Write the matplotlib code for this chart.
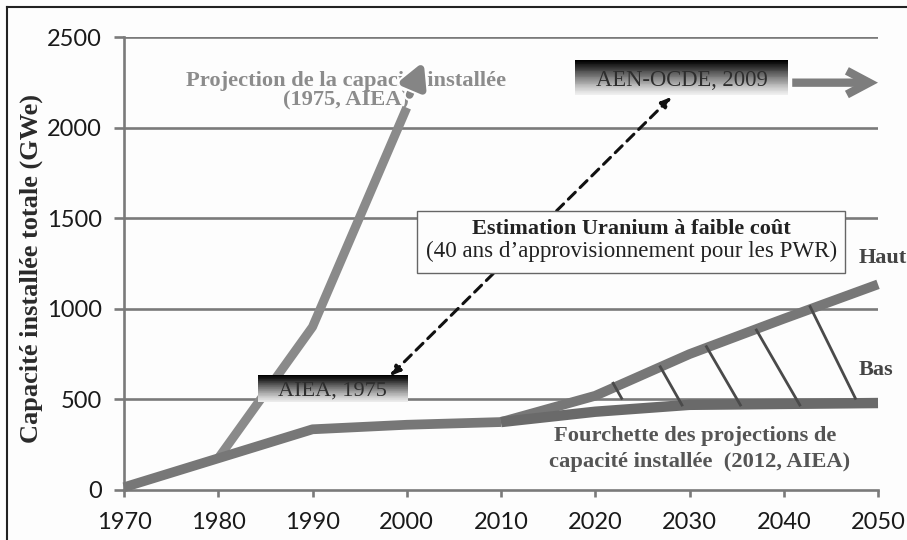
import numpy as np
import matplotlib
matplotlib.use("Agg")
import matplotlib.pyplot as plt
from matplotlib.colors import LinearSegmentedColormap
from matplotlib.patches import Rectangle
import matplotlib.patheffects as pe

# ---- data ----
years_hist = [1970, 1980, 1990, 2000, 2010]
cap_hist = [15, 175, 335, 360, 375]
years_proj = [2010, 2020, 2030, 2040, 2050]
cap_haut = [375, 520, 750, 945, 1135]
cap_bas = [375, 432, 470, 475, 480]
years_1975 = [1980, 1990, 2000]
cap_1975 = [175, 900, 2110]
arrow_1975_tip = (2001.8, 2365)
hatch_x0 = [2021.9, 2026.9, 2031.8, 2037.1, 2042.8]
hatch_y0 = [589, 680, 791, 883, 1012]
hatch_x1 = [2022.8, 2029.2, 2035.4, 2041.7, 2047.6]
hatch_y1 = [506, 469, 469, 469, 506]
xticks = [1970, 1980, 1990, 2000, 2010, 2020, 2030, 2040, 2050]
yticks = [0, 500, 1000, 1500, 2000, 2500]

SERIF = ["Liberation Serif", "DejaVu Serif"]
SANS = ["Lato", "DejaVu Sans"]

fig = plt.figure(figsize=(9.07, 5.40), dpi=100, facecolor="#fdfdfd")
ax = fig.add_axes([124/907, 1-490/540, (878-124)/907, (490-37)/540])
ax.set_facecolor("#fdfdfd")

grid_c = "#7a7a7a"
for y in yticks[1:]:
    ax.axhline(y, color=grid_c, lw=1.9, zorder=1)

for s in ["top", "right"]:
    ax.spines[s].set_visible(False)
for s in ["left", "bottom"]:
    ax.spines[s].set_color(grid_c)
    ax.spines[s].set_linewidth(1.9)

ax.set_xlim(1970, 2050)
ax.set_ylim(0, 2500)
ax.set_xticks(xticks)
ax.set_yticks(yticks)
ax.tick_params(axis="y", length=7, width=1.9, color=grid_c, pad=9)
ax.tick_params(axis="x", length=5, width=1.9, color=grid_c, pad=11)
for lab in ax.get_xticklabels() + ax.get_yticklabels():
    lab.set_family(SANS)
    lab.set_fontsize(17)
    lab.set_color("#1a1a1a")

ax.set_ylabel("Capacité installée totale (GWe)", family=SERIF, fontweight="bold",
              fontsize=19, color="#2a2a2a")
ax.yaxis.set_label_coords(-0.1074, 0.49)

line_c = "#777777"
# 1975 projection
ax.plot(years_1975, cap_1975, color="#8a8a8a", lw=6.5, solid_joinstyle="round",
        solid_capstyle="butt", zorder=3)
ax.annotate("", xy=arrow_1975_tip, xytext=(years_1975[-1] + 0.3, cap_1975[-1] + 70),
            arrowprops=dict(arrowstyle="-|>,head_length=1.4,head_width=0.75",
                            color="#858585", lw=5.5, shrinkA=0, shrinkB=0,
                            path_effects=[pe.withStroke(linewidth=8.5, foreground="white")]),
            zorder=6)

# history + projections 2012
ax.plot(years_hist, cap_hist, color=line_c, lw=7, solid_joinstyle="round",
        solid_capstyle="butt", zorder=4, clip_on=False)
ax.plot(years_proj, cap_haut, color=line_c, lw=7, solid_joinstyle="round",
        solid_capstyle="butt", zorder=4, clip_on=False)
ax.plot(years_proj, cap_bas, color="#6a6a6a", lw=7.5, solid_joinstyle="round",
        solid_capstyle="butt", zorder=4, clip_on=False)
for x0, y0, x1, y1 in zip(hatch_x0, hatch_y0, hatch_x1, hatch_y1):
    ax.plot([x0, x1], [y0, y1], color="#4a4a4a", lw=2.0, zorder=5)

# gradient boxes (drawn as thin horizontal strips)
cmap = LinearSegmentedColormap.from_list(
    "g", ["#000000", "#262626", "#555555", "#808080", "#aaaaaa", "#d2d2d2", "#efefef"])

def grad_box(x0, x1, y0, y1, text, fs):
    n = 40
    edges = np.linspace(y1, y0, n + 1)
    for i in range(n):
        ax.add_patch(Rectangle((x0, edges[i + 1]), x1 - x0, edges[i] - edges[i + 1],
                               facecolor=cmap(i / (n - 1)), edgecolor="none", lw=0,
                               zorder=7, antialiased=False))
    ax.text((x0 + x1) / 2, y0 + (y1 - y0) * 0.40, text, family=SERIF, fontsize=fs,
            color="#2e2e2e", ha="center", va="center", zorder=8)

# dashed double arrow
ax.annotate("", xy=(2028.1, 2170), xytext=(1998.2, 628),
            arrowprops=dict(arrowstyle="<|-|>,head_length=0.6,head_width=0.25", color="#111111",
                            lw=2.2, linestyle=(0, (3.2, 2.2)), shrinkA=0, shrinkB=0), zorder=6)

grad_box(2017.9, 2040.5, 2180, 2373, "AEN-OCDE, 2009", 16.3)
grad_box(1984.2, 2000.1, 484, 634, "AIEA, 1975", 16.0)

# AEN arrow
ax.annotate("", xy=(2050.0, 2248), xytext=(2040.9, 2248),
            arrowprops=dict(arrowstyle="->,head_length=1.6,head_width=0.85", color="#7d7d7d",
                            lw=6, shrinkA=0, shrinkB=0, capstyle="butt", joinstyle="miter"),
            zorder=6, annotation_clip=False)

# Estimation box
ax.add_patch(Rectangle((2001.1, 1198), 45.4, 342, facecolor="#fdfdfd", edgecolor="#666666",
                       lw=1.0, zorder=7))
ax.text(2023.8, 1440, "Estimation Uranium à faible coût", family=SERIF, fontweight="bold",
        fontsize=16.0, color="#222222", ha="center", va="center", zorder=8)
ax.text(2023.8, 1318, "(40 ans d\u2019approvisionnement pour les PWR)", family=SERIF,
        fontsize=16.6, color="#222222", ha="center", va="center", zorder=8)

# labels
ax.text(1993.6, 2202, "Projection de la capacité installée\n(1975, AIEA)", family=SERIF,
        fontweight="bold", fontsize=16.2, color="#8c8c8c", ha="center", va="center",
        linespacing=0.95, zorder=5)
ax.text(2047.9, 1280, "Haut", family=SERIF, fontweight="bold", fontsize=16.0, color="#444444",
        ha="left", va="center", zorder=8, clip_on=False)
ax.text(2047.9, 662, "Bas", family=SERIF, fontweight="bold", fontsize=16.0, color="#444444",
        ha="left", va="center", zorder=8, clip_on=False)
ax.text(2015.6, 300, "Fourchette des projections de", family=SERIF, fontweight="bold",
        fontsize=16.2, color="#555555", ha="left", va="center", zorder=8)
ax.text(2015.1, 156, "capacité installée  (2012, AIEA)", family=SERIF, fontweight="bold",
        fontsize=16.2, color="#555555", ha="left", va="center", zorder=8)

ax.set_xlim(1970, 2050)
ax.set_ylim(0, 2500)

# outer frame (top and left)
fig.add_artist(plt.Line2D([7/907, 1.0], [1-7/540, 1-7/540], transform=fig.transFigure,
                          color="#222222", lw=1.5))
fig.add_artist(plt.Line2D([7/907, 7/907], [0, 1-7/540], transform=fig.transFigure,
                          color="#222222", lw=1.5))

fig.savefig("out.png", dpi=100, facecolor=fig.get_facecolor())
